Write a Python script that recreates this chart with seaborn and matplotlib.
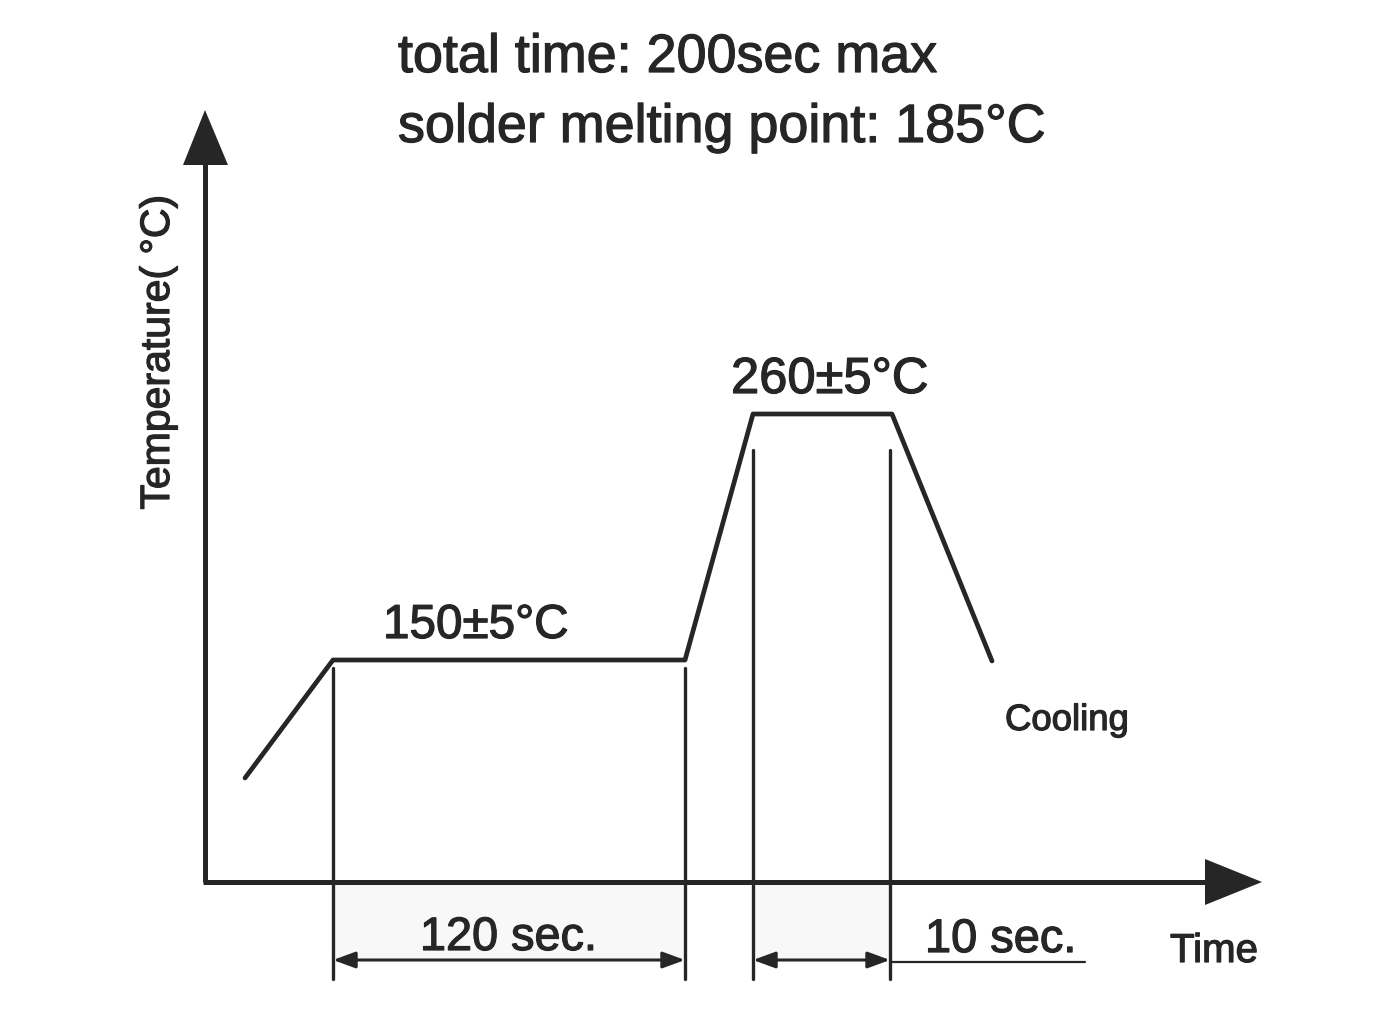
import matplotlib
matplotlib.use("Agg")
import matplotlib.pyplot as plt
import matplotlib.patheffects as pe
import seaborn as sns
import pandas as pd

sns.set_style("white")
plt.rcParams['font.family'] = ['Liberation Sans', 'DejaVu Sans']

# --- schematic data (time units, temperature units of the sketch) ---
profile_time = [40, 128, 480, 548, 687, 787]
profile_temp = [104, 222, 222, 468, 468, 221]

soak_edges = [128, 480]       # 120 sec window
peak_edges = [548, 685]       # 10 sec window
soak_top = 214
peak_top = 432
guide_bottom = -97
dim_y = -78

title_lines = ["total time: 200sec max", "solder melting point: 185\u00b0C"]
soak_label = "150\u00b15\u00b0C"
peak_label = "260\u00b15\u00b0C"
cool_label = "Cooling"
dim_labels = ["120 sec.", "10 sec."]
x_label = "Time"
y_label = "Temperature( \u00b0C)"

INK = "#262626"
bold = [pe.withStroke(linewidth=0.9, foreground=INK)]

fig = plt.figure(figsize=(13.92, 10.11), dpi=100)
ax = fig.add_axes([0, 0, 1, 1])
ax.set_xlim(-205, 1187)
ax.set_ylim(-129, 882)
ax.axis("off")

# faint shading under the axis in the two windows
for (a, b) in (soak_edges, peak_edges):
    ax.fill_between([a, b], [0, 0], [-76, -76], color="#f8f8f8", lw=0, zorder=0)

# axes with arrowheads
ax.plot([0, 0], [0, 720], color=INK, lw=3.6, solid_capstyle="butt", zorder=3)
ax.plot([-2, 1003], [0, 0], color=INK, lw=3.6, solid_capstyle="butt", zorder=3)
ax.fill([-22, 23, 0], [717, 717, 772], color=INK, lw=0, zorder=3)
ax.fill([1000, 1000, 1057], [23, -23, 0], color=INK, lw=0, zorder=3)

# temperature profile
df = pd.DataFrame({"time": profile_time, "temp": profile_temp})
sns.lineplot(data=df, x="time", y="temp", sort=False, color=INK, lw=3.4, ax=ax, zorder=4)

# vertical guide lines
for x in soak_edges:
    ax.plot([x, x], [soak_top, guide_bottom], color=INK, lw=2.4, zorder=3)
for x in peak_edges:
    ax.plot([x, x], [peak_top, guide_bottom], color=INK, lw=2.4, zorder=3)

# dimension arrows
for (a, b) in (soak_edges, peak_edges):
    ax.annotate("", xy=(b, dim_y), xytext=(a, dim_y),
                arrowprops=dict(arrowstyle="<|-|>,head_length=0.9,head_width=0.33",
                                mutation_scale=15, color=INK, lw=2.2,
                                shrinkA=0, shrinkB=0), zorder=3)
ax.plot([peak_edges[1], 880], [-80, -80], color=INK, lw=1.6, zorder=3)

# texts
kw = dict(color=INK, ha="left", va="baseline", path_effects=bold)
ax.text(193, 810, title_lines[0], fontsize=38.8, **kw)
ax.text(193, 740, title_lines[1], fontsize=38.8, **kw)
ax.text(178, 244, soak_label, fontsize=34.3, **kw)
ax.text(526, 489, peak_label, fontsize=36.5, **kw)
ax.text(800, 152, cool_label, fontsize=26.3, **kw)
ax.text(215, -68, dim_labels[0], fontsize=33.7, **kw)
ax.text(720, -70, dim_labels[1], fontsize=33.8, **kw)
ax.text(965, -80, x_label, fontsize=29, **kw)
ax.text(-47, 530, y_label, fontsize=29.5, color=INK, ha="center", va="center",
        rotation=90, path_effects=bold)

fig.savefig("out.png", dpi=100, facecolor="white")
